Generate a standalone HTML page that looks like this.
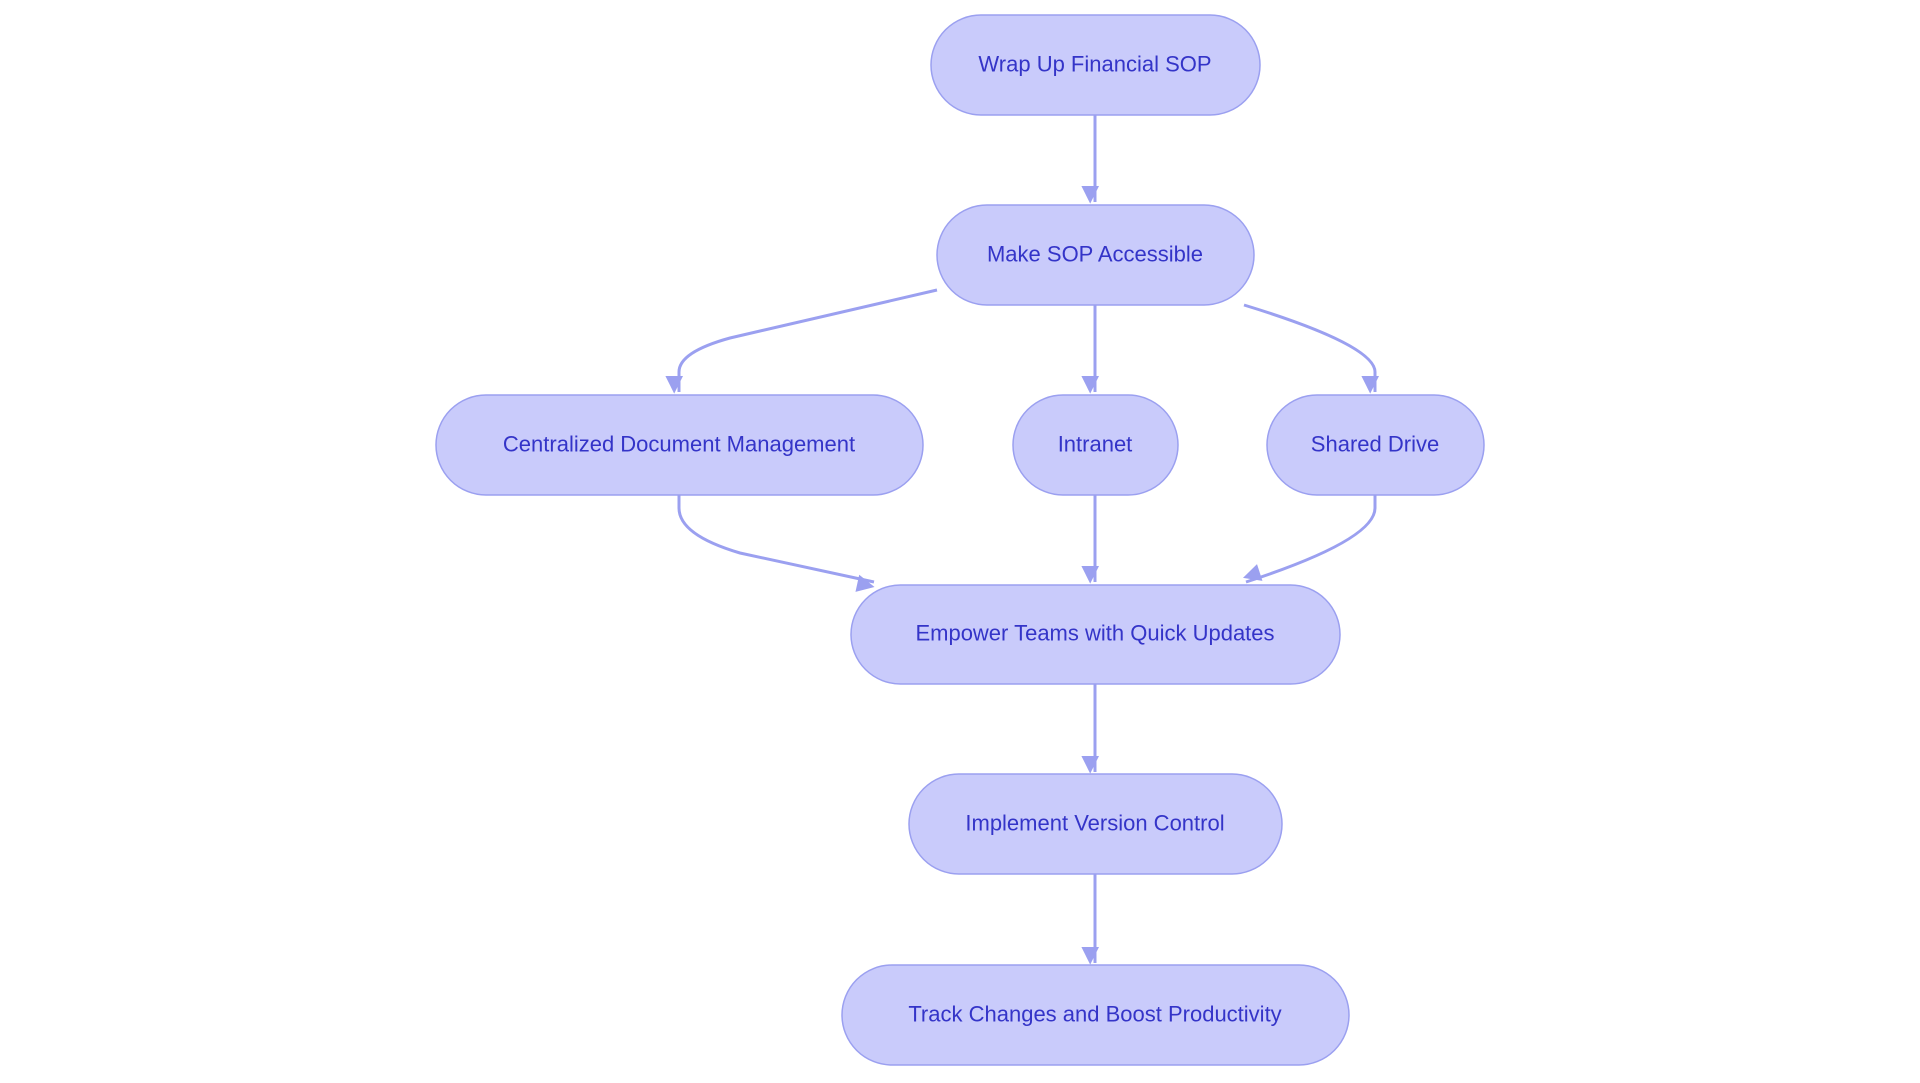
<!DOCTYPE html>
<html><head><style>
html,body{margin:0;padding:0;background:#fff;}
svg{display:block;}
text{font-family:"Liberation Sans",sans-serif;font-size:22px;fill:#3434c8;text-anchor:middle;dominant-baseline:central;}
</style></head><body>
<svg width="1920" height="1083" viewBox="0 0 1920 1083">
<defs>
<marker id="a" viewBox="0 0 10 10" refX="9" refY="5" markerWidth="8" markerHeight="8" markerUnits="userSpaceOnUse" orient="auto" style="overflow:visible">
<path d="M0,0 L10,5 L0,10 z" fill="#9ba0f0" transform="scale(2.2) translate(-5,0)"/>
</marker>
</defs>
<g fill="none" stroke="#9ba0f0" stroke-width="3" marker-end="url(#a)">
<path d="M1095,115 L1095,202"/>
<path d="M1095,305 L1095,392"/>
<path d="M1095,495 L1095,582"/>
<path d="M1095,684 L1095,772"/>
<path d="M1095,874 L1095,963"/>
<path d="M937,290 L730,338 Q679,352 679,372 L679,392"/>
<path d="M1244,305 Q1375,345 1375,372 L1375,392"/>
<path d="M679,495 L679,508 Q679,535 740,553 L874,582"/>
<path d="M1375,495 L1375,508 Q1375,540 1246,582"/>
</g>
<g fill="#c9cbfb" stroke="#9ba0f0" stroke-width="1.5">
<rect x="931" y="15" width="329" height="100" rx="50"/>
<rect x="937" y="205" width="317" height="100" rx="50"/>
<rect x="436" y="395" width="487" height="100" rx="50"/>
<rect x="1013" y="395" width="165" height="100" rx="50"/>
<rect x="1267" y="395" width="217" height="100" rx="50"/>
<rect x="851" y="585" width="489" height="99" rx="49.5"/>
<rect x="909" y="774" width="373" height="100" rx="50"/>
<rect x="842" y="965" width="507" height="100" rx="50"/>
</g>
<text x="1095" y="64">Wrap Up Financial SOP</text>
<text x="1095" y="254">Make SOP Accessible</text>
<text x="679" y="444">Centralized Document Management</text>
<text x="1095" y="444">Intranet</text>
<text x="1375" y="444">Shared Drive</text>
<text x="1095" y="633">Empower Teams with Quick Updates</text>
<text x="1095" y="823">Implement Version Control</text>
<text x="1095" y="1014">Track Changes and Boost Productivity</text>
</svg>
</body></html>
